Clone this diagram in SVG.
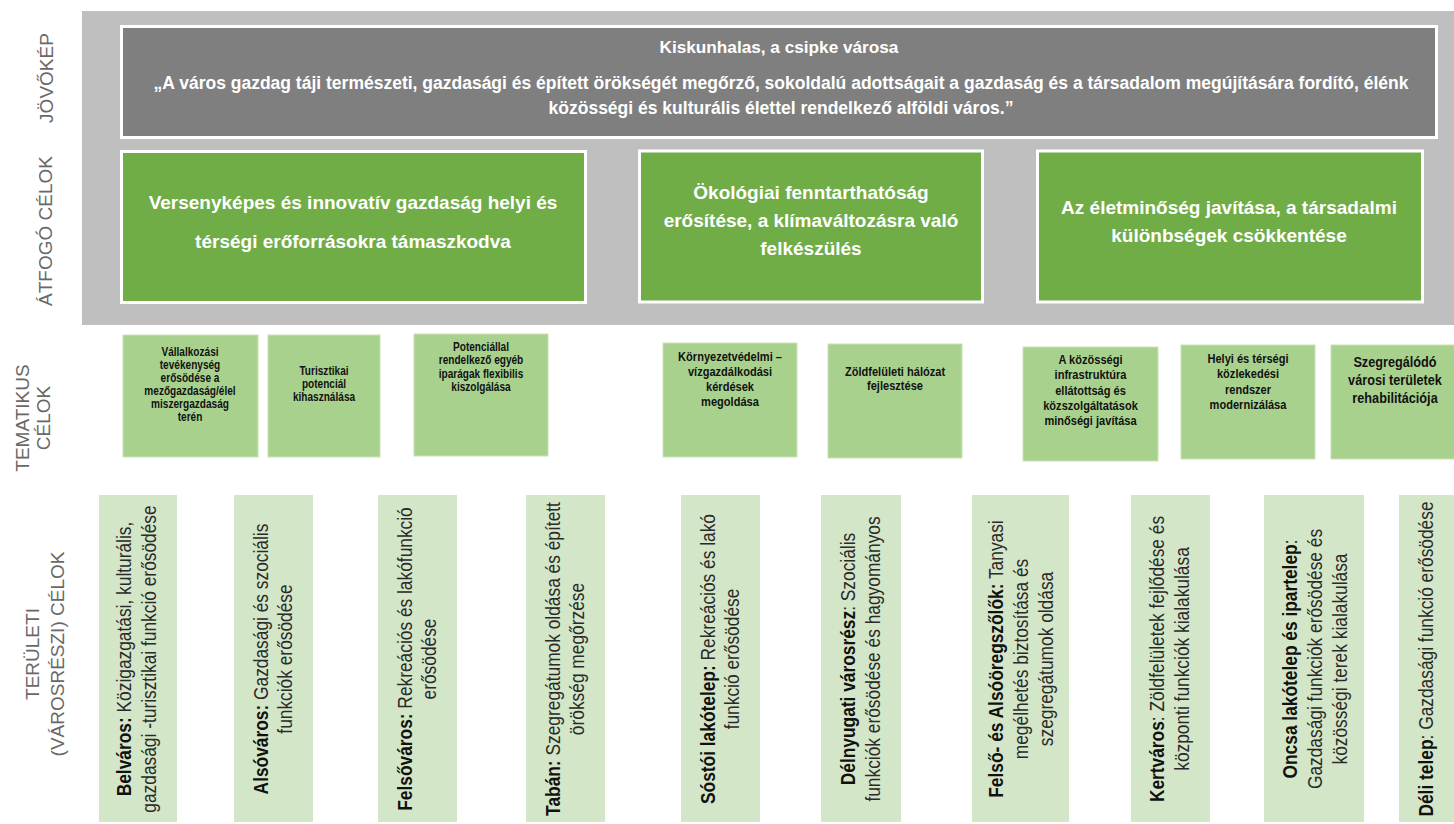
<svg xmlns="http://www.w3.org/2000/svg" width="1454" height="824" viewBox="0 0 1454 824">
<style>
.band{fill:#bfbfbf}
.vision{fill:#7f7f7f;stroke:#ffffff;stroke-width:3}
.goal{fill:#70ad47;stroke:#ffffff;stroke-width:3}
.theme{fill:#a9d18e;stroke:#c8e2b6;stroke-width:1}
.area{fill:#d4e6c8}
.lbl{font-family:"Liberation Sans",Arial,sans-serif;font-size:19px;fill:#686868}
.wt{font-family:"Liberation Sans",Arial,sans-serif;font-weight:bold;fill:#ffffff;text-anchor:middle}
.th{font-family:"Liberation Sans",Arial,sans-serif;font-weight:bold;fill:#111111;text-anchor:middle}
.ar{font-family:"Liberation Sans",Arial,sans-serif;font-size:19.5px;fill:#2a2a2a;text-anchor:middle}
.b{font-weight:bold;fill:#111111}
</style>
<rect class="band" x="82" y="11" width="1372" height="314"/>
<g id="labels">
<text class="lbl" transform="translate(53,78) rotate(-90)" text-anchor="middle">JÖVŐKÉP</text>
<text class="lbl" transform="translate(52,231) rotate(-90)" text-anchor="middle">ÁTFOGÓ CÉLOK</text>
<text class="lbl" transform="translate(29,418) rotate(-90)" text-anchor="middle">TEMATIKUS</text>
<text class="lbl" transform="translate(50,418) rotate(-90)" text-anchor="middle">CÉLOK</text>
<text class="lbl" transform="translate(39,654) rotate(-90)" text-anchor="middle">TERÜLETI</text>
<text class="lbl" transform="translate(64,654) rotate(-90)" text-anchor="middle">(VÁROSRÉSZI) CÉLOK</text>
</g>
<g id="vision">
<rect class="vision" x="121.5" y="26.5" width="1315" height="111"/>
<text class="wt" x="779" y="53" font-size="17.2">Kiskunhalas, a csipke városa</text>
<text class="wt" x="781" y="89" font-size="17.5">„A város gazdag táji természeti, gazdasági és épített örökségét megőrző, sokoldalú adottságait a gazdaság és a társadalom megújítására fordító, élénk</text>
<text class="wt" x="781" y="114" font-size="17.5">közösségi és kulturális élettel rendelkező alföldi város.”</text>
</g>
<g id="goal1">
<rect class="goal" x="121.5" y="151.5" width="464" height="151"/>
<text class="wt" font-size="19"><tspan x="353" y="209">Versenyképes és innovatív gazdaság helyi és</tspan><tspan x="353" y="248">térségi erőforrásokra támaszkodva</tspan></text>
</g>
<g id="goal2">
<rect class="goal" x="639.5" y="151" width="343" height="151"/>
<text class="wt" font-size="19"><tspan x="811" y="199">Ökológiai fenntarthatóság</tspan><tspan x="811" y="227">erősítése, a klímaváltozásra való</tspan><tspan x="811" y="255">felkészülés</tspan></text>
</g>
<g id="goal3">
<rect class="goal" x="1037.5" y="151" width="385" height="151"/>
<text class="wt" font-size="19"><tspan x="1229" y="214">Az életminőség javítása, a társadalmi</tspan><tspan x="1229" y="242">különbségek csökkentése</tspan></text>
</g>
<g id="theme1">
<rect class="theme" x="123" y="335" width="135" height="122"/>
<text class="th" font-size="12.3" transform="translate(190,0) scale(0.82,1)"><tspan x="0" y="356">Vállalkozási</tspan><tspan x="0" y="369">tevékenység</tspan><tspan x="0" y="382">erősödése a</tspan><tspan x="0" y="395">mezőgazdaság/élel</tspan><tspan x="0" y="408">miszergazdaság</tspan><tspan x="0" y="421">terén</tspan></text>
</g>
<g id="theme2">
<rect class="theme" x="268" y="335" width="112" height="122"/>
<text class="th" font-size="12.3" transform="translate(324,0) scale(0.82,1)"><tspan x="0" y="375">Turisztikai</tspan><tspan x="0" y="388">potenciál</tspan><tspan x="0" y="401">kihasználása</tspan></text>
</g>
<g id="theme3">
<rect class="theme" x="414" y="334" width="134" height="122"/>
<text class="th" font-size="12.3" transform="translate(481,0) scale(0.82,1)"><tspan x="0" y="351">Potenciállal</tspan><tspan x="0" y="364.5">rendelkező egyéb</tspan><tspan x="0" y="378">iparágak flexibilis</tspan><tspan x="0" y="391.5">kiszolgálása</tspan></text>
</g>
<g id="theme4">
<rect class="theme" x="663" y="343" width="134" height="114"/>
<text class="th" font-size="13.5" transform="translate(730,0) scale(0.82,1)"><tspan x="0" y="361">Környezetvédelmi –</tspan><tspan x="0" y="376">vízgazdálkodási</tspan><tspan x="0" y="391">kérdések</tspan><tspan x="0" y="406">megoldása</tspan></text>
</g>
<g id="theme5">
<rect class="theme" x="828" y="344" width="134" height="114"/>
<text class="th" font-size="13.5" transform="translate(895,0) scale(0.82,1)"><tspan x="0" y="376">Zöldfelületi hálózat</tspan><tspan x="0" y="390.5">fejlesztése</tspan></text>
</g>
<g id="theme6">
<rect class="theme" x="1023" y="347" width="135" height="114"/>
<text class="th" font-size="13.5" transform="translate(1090.5,0) scale(0.82,1)"><tspan x="0" y="364">A közösségi</tspan><tspan x="0" y="379.3">infrastruktúra</tspan><tspan x="0" y="394.6">ellátottság és</tspan><tspan x="0" y="409.9">közszolgáltatások</tspan><tspan x="0" y="425.2">minőségi javítása</tspan></text>
</g>
<g id="theme7">
<rect class="theme" x="1181" y="345" width="134" height="114"/>
<text class="th" font-size="13.5" transform="translate(1248,0) scale(0.82,1)"><tspan x="0" y="363">Helyi és térségi</tspan><tspan x="0" y="378.3">közlekedési</tspan><tspan x="0" y="393.6">rendszer</tspan><tspan x="0" y="408.9">modernizálása</tspan></text>
</g>
<g id="theme8">
<rect class="theme" x="1331" y="345" width="125" height="114"/>
<text class="th" font-size="15.5" transform="translate(1395,0) scale(0.82,1)"><tspan x="0" y="367">Szegregálódó</tspan><tspan x="0" y="385">városi területek</tspan><tspan x="0" y="403">rehabilitációja</tspan></text>
</g>
<g id="area1">
<rect class="area" x="99" y="495" width="78" height="327"/>
<text class="ar" transform="translate(137,659) rotate(-90) scale(0.89,1)"><tspan x="0" y="-6"><tspan class="b">Belváros:</tspan> Közigazgatási, kulturális,</tspan><tspan x="0" y="19">gazdasági -turisztikai funkció erősödése</tspan></text>
</g>
<g id="area2">
<rect class="area" x="234" y="495" width="79" height="327"/>
<text class="ar" transform="translate(273.5,659) rotate(-90) scale(0.89,1)"><tspan x="0" y="-6"><tspan class="b">Alsóváros:</tspan> Gazdasági és szociális</tspan><tspan x="0" y="19">funkciók erősödése</tspan></text>
</g>
<g id="area3">
<rect class="area" x="378" y="495" width="79" height="327"/>
<text class="ar" transform="translate(417.5,659) rotate(-90) scale(0.89,1)"><tspan x="0" y="-6"><tspan class="b">Felsőváros:</tspan> Rekreációs és lakófunkció</tspan><tspan x="0" y="19">erősödése</tspan></text>
</g>
<g id="area4">
<rect class="area" x="526" y="495" width="79" height="327"/>
<text class="ar" transform="translate(565.5,659) rotate(-90) scale(0.89,1)"><tspan x="0" y="-6"><tspan class="b">Tabán:</tspan> Szegregátumok oldása és épített</tspan><tspan x="0" y="19">örökség megőrzése</tspan></text>
</g>
<g id="area5">
<rect class="area" x="681" y="495" width="79" height="327"/>
<text class="ar" transform="translate(720.5,659) rotate(-90) scale(0.89,1)"><tspan x="0" y="-6"><tspan class="b">Sóstói lakótelep:</tspan> Rekreációs és lakó</tspan><tspan x="0" y="19">funkció erősödése</tspan></text>
</g>
<g id="area6">
<rect class="area" x="821" y="495" width="80" height="327"/>
<text class="ar" transform="translate(861,659) rotate(-90) scale(0.89,1)"><tspan x="0" y="-6"><tspan class="b">Délnyugati városrész</tspan>: Szociális</tspan><tspan x="0" y="19">funkciók erősödése és hagyományos</tspan></text>
</g>
<g id="area7">
<rect class="area" x="972" y="495" width="97" height="327"/>
<text class="ar" transform="translate(1021,659) rotate(-90) scale(0.89,1)"><tspan x="0" y="-18"><tspan class="b">Felső- és Alsóöregszőlők:</tspan> Tanyasi</tspan><tspan x="0" y="7">megélhetés biztosítása és</tspan><tspan x="0" y="32">szegregátumok oldása</tspan></text>
</g>
<g id="area8">
<rect class="area" x="1131" y="495" width="79" height="327"/>
<text class="ar" transform="translate(1170,659) rotate(-90) scale(0.89,1)"><tspan x="0" y="-6"><tspan class="b">Kertváros</tspan>: Zöldfelületek fejlődése és</tspan><tspan x="0" y="19">központi funkciók kialakulása</tspan></text>
</g>
<g id="area9">
<rect class="area" x="1264" y="495" width="100" height="327"/>
<text class="ar" transform="translate(1315,659) rotate(-90) scale(0.89,1)"><tspan x="0" y="-18" class="b">Oncsa lakótelep és ipartelep<tspan font-weight="normal" fill="#2a2a2a">:</tspan></tspan><tspan x="0" y="7">Gazdasági funkciók erősödése és</tspan><tspan x="0" y="32">közösségi terek kialakulása</tspan></text>
</g>
<g id="area10">
<rect class="area" x="1399" y="495" width="55" height="327"/>
<text class="ar" transform="translate(1426,659) rotate(-90) scale(0.89,1)"><tspan x="0" y="7"><tspan class="b">Déli telep</tspan>: Gazdasági funkció erősödése</tspan></text>
</g>
</svg>
